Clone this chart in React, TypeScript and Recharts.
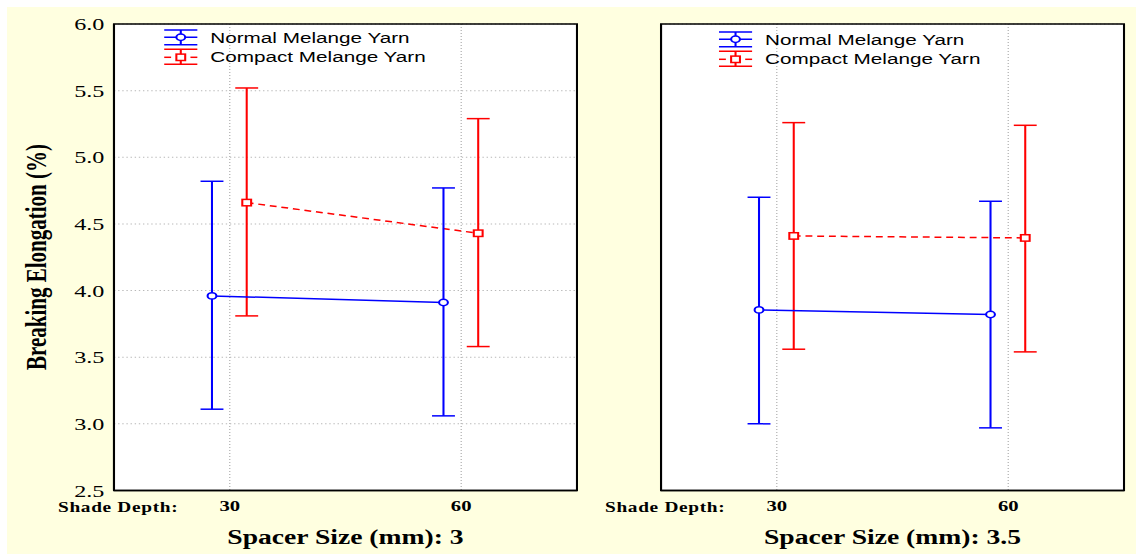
import { LineChart, Line, XAxis, YAxis, CartesianGrid, ErrorBar, ReferenceArea, Label } from 'recharts'

const shadeDepths = [30, 60]
const yTicks = [2.5, 3.0, 3.5, 4.0, 4.5, 5.0, 5.5, 6.0]
const spacerTitles = ['Spacer Size (mm): 3', 'Spacer Size (mm): 3.5']
const seriesNames = ['Normal Melange Yarn', 'Compact Melange Yarn']

// spacer 3 mm
const normalMean3 = [3.96, 3.91]
const normalLow3 = [3.11, 3.06]
const normalHigh3 = [4.82, 4.77]
const compactMean3 = [4.66, 4.43]
const compactLow3 = [3.81, 3.58]
const compactHigh3 = [5.52, 5.29]

// spacer 3.5 mm
const normalMean35 = [3.855, 3.82]
const normalLow35 = [3.0, 2.97]
const normalHigh35 = [4.7, 4.67]
const compactMean35 = [4.41, 4.395]
const compactLow35 = [3.56, 3.54]
const compactHigh35 = [5.26, 5.24]

const BLUE = '#0000ff'
const RED = '#ff0000'
const SERIF = '"Liberation Serif", "Times New Roman", serif'
const SANS = '"Liberation Sans", Arial, sans-serif'
// the original picture is stretched sideways, so the charts are too
const STRETCH = 1.38
const BLUE_SHIFT = -2.3
const RED_SHIFT = 2.2

function toRows(mean: number[], low: number[], high: number[], shift: number) {
  return shadeDepths.map((d, i) => ({
    x: d + shift,
    y: mean[i],
    err: [mean[i] - low[i], high[i] - mean[i]],
  }))
}

function SquareDot(props: any) {
  const { cx, cy, index } = props
  return <rect key={`sq-${index}`} x={cx - 3.2} y={cy - 3.2} width={6.4} height={6.4} fill="#fff" stroke={RED} strokeWidth={1.5} />
}

function LegendBox({ left, top }: { left: number; top: number }) {
  return (
    <svg width={230} height={44} style={{ position: 'absolute', left, top, overflow: 'visible' }}>
      <g stroke={BLUE} strokeWidth={1.5}>
        <line x1={0} x2={24} y1={4} y2={4} />
        <line x1={12} x2={12} y1={4} y2={18.7} />
        <line x1={0} x2={24} y1={11.3} y2={11.3} />
        <line x1={0} x2={24} y1={18.7} y2={18.7} />
        <circle cx={12} cy={11.3} r={3.2} fill="#fff" />
      </g>
      <g stroke={RED} strokeWidth={1.5}>
        <line x1={0} x2={24} y1={23.3} y2={23.3} />
        <line x1={12} x2={12} y1={23.3} y2={38.3} />
        <line x1={0} x2={5} y1={31.3} y2={31.3} />
        <line x1={19} x2={24} y1={31.3} y2={31.3} />
        <line x1={0} x2={24} y1={38.3} y2={38.3} />
        <rect x={8.8} y={28.1} width={6.4} height={6.4} fill="#fff" />
      </g>
      <text x={33.4} y={12} dominantBaseline="central" fontFamily={SANS} fontSize={15} fill="#000">{seriesNames[0]}</text>
      <text x={33.4} y={31} dominantBaseline="central" fontFamily={SANS} fontSize={15} fill="#000">{seriesNames[1]}</text>
    </svg>
  )
}

interface PanelProps {
  width: number
  axisWidth: number
  rightGap: number
  title: string
  normal: ReturnType<typeof toRows>
  compact: ReturnType<typeof toRows>
  first?: boolean
}

function Panel({ width, axisWidth, rightGap, title, normal, compact, first }: PanelProps) {
  return (
    <LineChart width={width} height={554} margin={{ top: 24, right: rightGap, bottom: 0, left: 0 }}>
      <CartesianGrid fill="#fff" stroke="#b8b8b8" strokeDasharray="1 2" />
      <XAxis
        type="number"
        dataKey="x"
        domain={[15, 75]}
        ticks={shadeDepths}
        height={63.5}
        tickLine={false}
        tickSize={8}
        tickMargin={2}
        axisLine={{ stroke: '#000', strokeWidth: 1.5 }}
        tick={{ fill: '#000', fontFamily: SERIF, fontSize: 15, fontWeight: 'bold' }}
      >
        <Label value={title} position="insideBottom" offset={9.5} fill="#000" fontFamily={SERIF} fontSize={20} fontWeight="bold" />
        <Label
          content={(p: any) => (
            <text x={p.viewBox.x - 40.6} y={p.viewBox.y + 22} fill="#000" fontFamily={SERIF} fontSize={14} letterSpacing={0.5} fontWeight="bold">
              Shade Depth:
            </text>
          )}
        />
      </XAxis>
      <YAxis
        type="number"
        domain={[2.5, 6]}
        ticks={yTicks}
        width={axisWidth}
        tickLine={false}
        tickSize={5}
        tickMargin={2}
        tickFormatter={(v: number) => v.toFixed(1)}
        axisLine={{ stroke: '#000', strokeWidth: 1.5 }}
        tick={first ? { fill: '#000', fontFamily: SERIF, fontSize: 17.5 } : false}
      >
        {first && (
          <Label
            content={() => (
              <text transform="translate(33.3,257) rotate(-90)" textAnchor="middle" fill="#000" fontFamily={SERIF} fontSize={21} fontWeight="bold">
                Breaking Elongation (%)
              </text>
            )}
          />
        )}
      </YAxis>
      <ReferenceArea x1={15} x2={75} y1={2.5} y2={6} fill="none" stroke="#000" strokeWidth={1.5} />
      <Line data={compact} dataKey="y" stroke={RED} strokeWidth={1.5} strokeDasharray="5 3.5" dot={SquareDot} isAnimationActive={false}>
        <ErrorBar dataKey="err" width={8.3} stroke={RED} strokeWidth={1.5} direction="y" />
      </Line>
      <Line data={normal} dataKey="y" stroke={BLUE} strokeWidth={1.5} dot={{ r: 3.2, fill: '#fff', stroke: BLUE, strokeWidth: 1.5 }} isAnimationActive={false}>
        <ErrorBar dataKey="err" width={8.3} stroke={BLUE} strokeWidth={1.5} direction="y" />
      </Line>
    </LineChart>
  )
}

export default function App() {
  const normal3 = toRows(normalMean3, normalLow3, normalHigh3, BLUE_SHIFT)
  const compact3 = toRows(compactMean3, compactLow3, compactHigh3, RED_SHIFT)
  const normal35 = toRows(normalMean35, normalLow35, normalHigh35, BLUE_SHIFT)
  const compact35 = toRows(compactMean35, compactLow35, compactHigh35, RED_SHIFT)
  const inner = 1136 / STRETCH

  return (
    <div style={{ position: 'absolute', left: 0, top: 0, width: 1136, height: 554, background: '#fff', overflow: 'hidden' }}>
      <div style={{ position: 'absolute', left: 7, top: 7, right: 0, bottom: 0, background: '#ffffe0' }} />
      <div style={{ position: 'absolute', left: 0, top: 0, width: inner, height: 554, transform: `scaleX(${STRETCH})`, transformOrigin: '0 0' }}>
        <div style={{ position: 'absolute', left: 0, top: 0 }}>
          <Panel width={420} axisWidth={82.6} rightGap={1.9} title={spacerTitles[0]} normal={normal3} compact={compact3} first />
        </div>
        <div style={{ position: 'absolute', left: 420, top: 0 }}>
          <Panel width={inner - 420} axisWidth={59} rightGap={inner - 814.5} title={spacerTitles[1]} normal={normal35} compact={compact35} />
        </div>
        <LegendBox left={118.8} top={26} />
        <LegendBox left={520.8} top={28} />
      </div>
    </div>
  )
}
